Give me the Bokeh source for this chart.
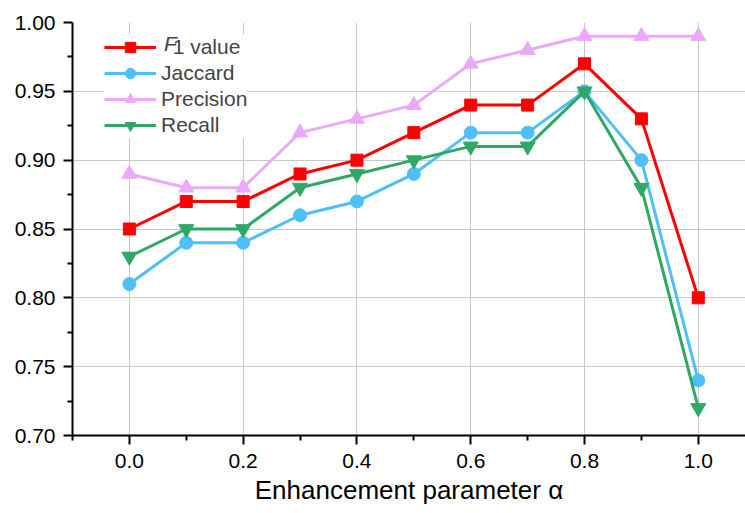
from bokeh.plotting import figure
from bokeh.models import Range1d, Legend, LegendItem, NumeralTickFormatter, FixedTicker
from bokeh.embed import file_html
from bokeh.resources import INLINE

alpha = [0.0, 0.1, 0.2, 0.3, 0.4, 0.5, 0.6, 0.7, 0.8, 0.9, 1.0]
f1 = [0.85, 0.87, 0.87, 0.89, 0.90, 0.92, 0.94, 0.94, 0.97, 0.93, 0.80]
jaccard = [0.81, 0.84, 0.84, 0.86, 0.87, 0.89, 0.92, 0.92, 0.95, 0.90, 0.74]
precision = [0.89, 0.88, 0.88, 0.92, 0.93, 0.94, 0.97, 0.98, 0.99, 0.99, 0.99]
recall = [0.83, 0.85, 0.85, 0.88, 0.89, 0.90, 0.91, 0.91, 0.95, 0.88, 0.72]

x_ticks = [0.0, 0.2, 0.4, 0.6, 0.8, 1.0]
x_minor = [-0.1, 0.1, 0.3, 0.5, 0.7, 0.9, 1.1]
y_ticks = [0.70, 0.75, 0.80, 0.85, 0.90, 0.95, 1.00]
y_minor = [0.725, 0.775, 0.825, 0.875, 0.925, 0.975]

FONT = "Liberation Sans"

p = figure(width=745, height=513, output_backend="svg", toolbar_location=None,
           x_range=Range1d(-0.1, 1.083), y_range=Range1d(0.70, 1.00),
           min_border_left=72, min_border_right=0, min_border_top=22, min_border_bottom=78)
p.outline_line_color = None
p.background_fill_color = "white"
p.border_fill_color = "white"

series = [
    ("F1 value", f1, "#FF0000", "square", 12),
    ("Jaccard", jaccard, "#4FC0F7", "circle", 13),
    ("Precision", precision, "#EBAAF7", "triangle", 15),
    ("Recall", recall, "#2FA865", "inverted_triangle", 15),
]

items = []
line_only = None
for name, ys, col, mk, sz in series:
    r1 = p.line(alpha, ys, line_color=col, line_width=3)
    r2 = p.scatter(alpha, ys, marker=mk, size=sz, fill_color=col, line_color=col)
    if name == "F1 value":
        line_only = r1
        lab = "\u00a0\u00a01 value"
    else:
        lab = name
    items.append(LegendItem(label=lab, renderers=[r1, r2]))

legend = Legend(items=items, location=(32, 297), background_fill_color="white",
                background_fill_alpha=1.0, border_line_color=None, padding=3, spacing=0,
                label_text_font=FONT, label_text_font_size="21px", label_height=26,
                glyph_height=26, glyph_width=52, label_standoff=5, margin=0)
p.add_layout(legend, "center")

# text-only legend on top, carrying the italic F of "F1 value"
legend_f = Legend(items=[LegendItem(label="F", renderers=[line_only])], location=(87, 378),
                  background_fill_alpha=0.0, border_line_color=None, padding=0, spacing=0,
                  label_text_font=FONT, label_text_font_size="21px", label_text_font_style="italic",
                  label_height=26, glyph_height=26, glyph_width=0, label_standoff=5, margin=0)
p.add_layout(legend_f, "center")

for ax in (p.xaxis[0], p.yaxis[0]):
    ax.axis_line_width = 2
    ax.axis_line_color = "black"
    ax.major_tick_line_width = 2
    ax.minor_tick_line_width = 2
    ax.major_tick_line_color = "black"
    ax.minor_tick_line_color = "black"
    ax.major_tick_out = 9
    ax.major_tick_in = 0
    ax.minor_tick_out = 5
    ax.minor_tick_in = 0
    ax.major_label_text_font = FONT
    ax.major_label_text_font_size = "21px"
    ax.major_label_text_color = "black"

p.xaxis.ticker = FixedTicker(ticks=x_ticks, minor_ticks=x_minor)
p.yaxis.ticker = FixedTicker(ticks=y_ticks, minor_ticks=y_minor)
p.xaxis.formatter = NumeralTickFormatter(format="0.0")
p.yaxis.formatter = NumeralTickFormatter(format="0.00")
p.xaxis.major_label_standoff = 9
p.yaxis.major_label_standoff = 8

p.xaxis.axis_label = "Enhancement parameter \u03b1"
p.xaxis.axis_label_text_font = FONT
p.xaxis.axis_label_text_font_size = "26px"
p.xaxis.axis_label_text_font_style = "normal"
p.xaxis.axis_label_text_color = "black"
p.xaxis.axis_label_standoff = 4

p.xgrid.grid_line_color = "#C8C8C8"
p.ygrid.grid_line_color = "#C8C8C8"
p.xgrid.grid_line_width = 1
p.ygrid.grid_line_width = 1

open("out.html", "w").write(file_html(p, INLINE))
